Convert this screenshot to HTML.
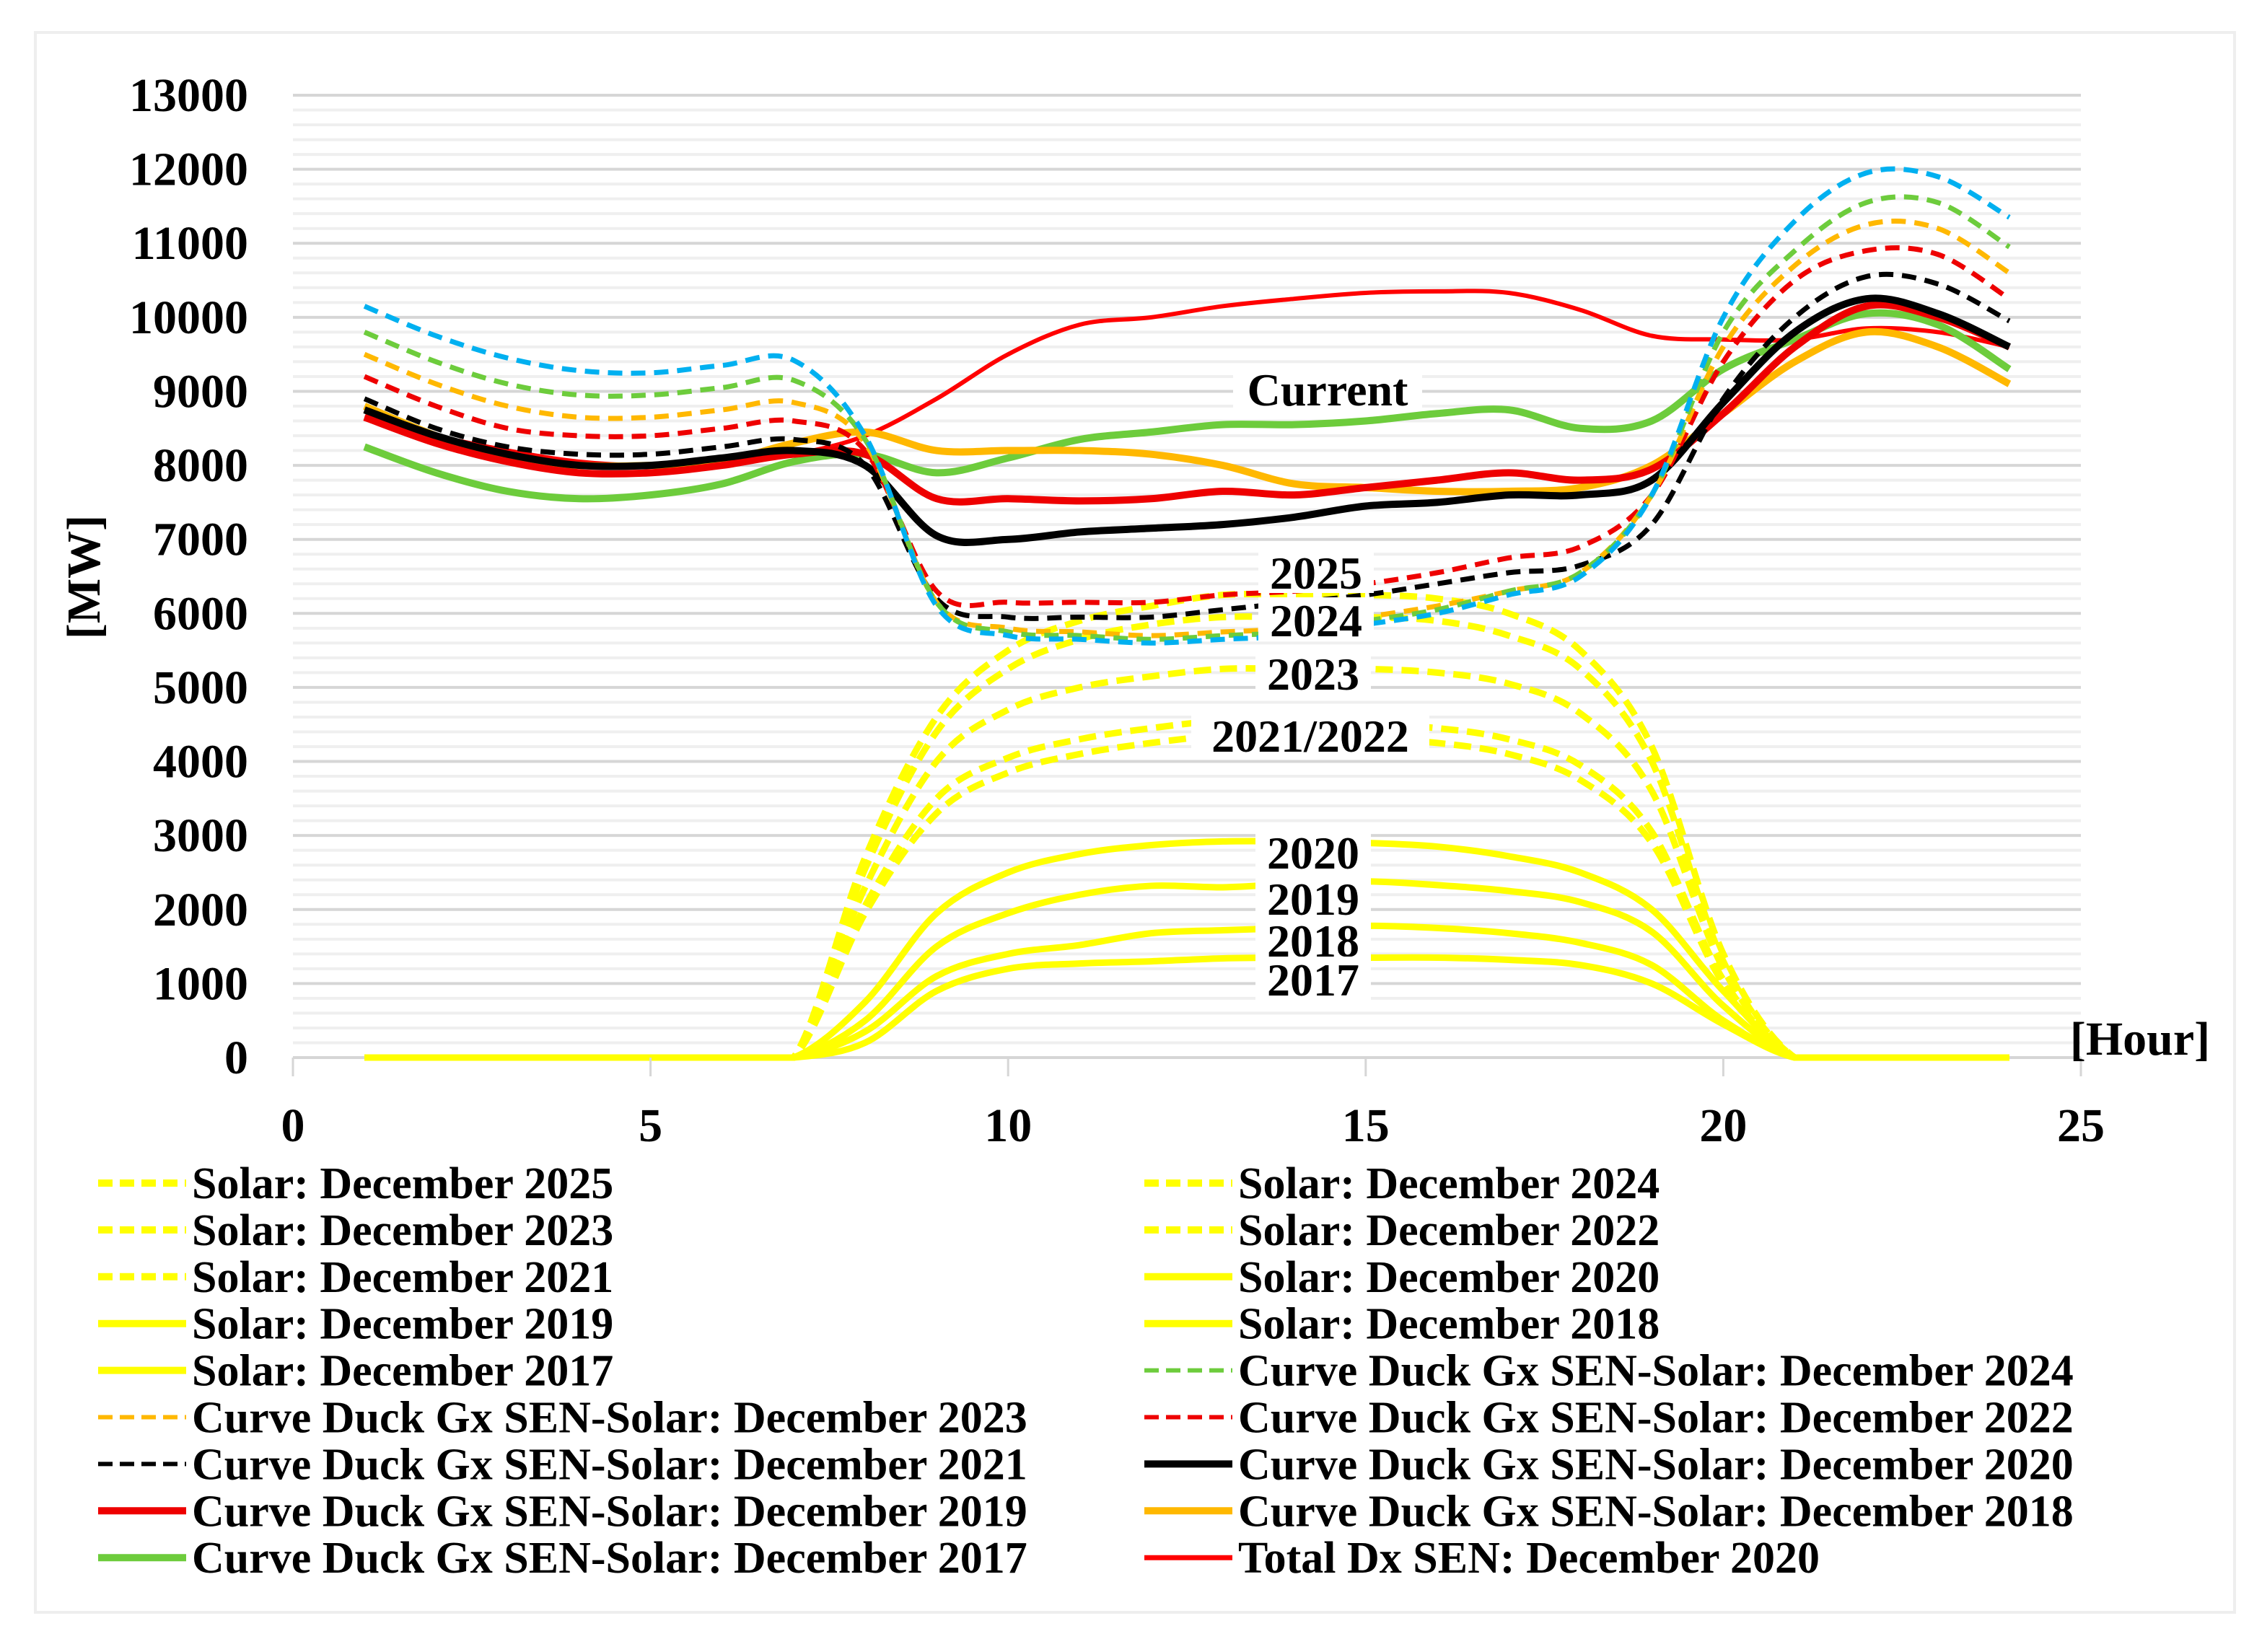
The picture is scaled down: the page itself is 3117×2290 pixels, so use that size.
<!DOCTYPE html>
<html><head><meta charset="utf-8"><style>
html,body{margin:0;padding:0;background:#fff}
svg{display:block}
text{font-family:"Liberation Serif",serif;font-weight:bold;fill:#000}
</style></head><body>
<svg id="chart" width="3117" height="2290" viewBox="0 0 3117 2290" xmlns="http://www.w3.org/2000/svg">
<rect x="0" y="0" width="3117" height="2290" fill="#fff"/>
<rect x="49" y="45" width="3048" height="2190" fill="none" stroke="#eeeeee" stroke-width="4"/>
<g id="grid"></g><g id="series"></g><g id="labels"></g><g id="axes"></g><g id="legend"></g>
</svg>
<script>
const hours=[1,2,3,4,5,6,7,8,9,10,11,12,13,14,15,16,17,18,19,20,21,22,23,24];
const yTicks=[0,1000,2000,3000,4000,5000,6000,7000,8000,9000,10000,11000,12000,13000];
const xTicks=[0,5,10,15,20,25];
const solar2025=[0,0,0,0,0,0,0,2700,4600,5500,5900,6100,6250,6250,6250,6200,6000,5500,4200,1400,0,0,0,0];
const solar2024=[0,0,0,0,0,0,0,2550,4400,5250,5650,5850,5950,5950,5950,5900,5700,5250,4000,1300,0,0,0,0];
const solar2023=[0,0,0,0,0,0,0,2300,4000,4700,5000,5150,5250,5250,5250,5200,5050,4650,3600,1200,0,0,0,0];
const solar2022=[0,0,0,0,0,0,0,2050,3500,4050,4300,4450,4550,4550,4500,4450,4300,3950,3050,1050,0,0,0,0];
const solar2021=[0,0,0,0,0,0,0,1950,3300,3850,4100,4250,4350,4350,4300,4250,4100,3750,2900,1000,0,0,0,0];
const solar2020=[0,0,0,0,0,0,0,750,1950,2500,2750,2870,2920,2920,2900,2850,2720,2500,2000,900,0,0,0,0];
const solar2019=[0,0,0,0,0,0,0,500,1500,1950,2200,2320,2300,2350,2380,2330,2250,2100,1700,700,0,0,0,0];
const solar2018=[0,0,0,0,0,0,0,350,1100,1400,1520,1680,1720,1750,1780,1750,1680,1550,1250,500,0,0,0,0];
const solar2017=[0,0,0,0,0,0,0,200,900,1200,1270,1300,1340,1350,1350,1350,1320,1250,1000,450,0,0,0,0];
const duck2025=[10150,9750,9450,9280,9250,9350,9420,8400,6100,5700,5650,5600,5650,5700,5850,6000,6250,6500,7600,10000,11300,11950,11900,11350];
const duck2024=[9800,9400,9100,8950,8950,9050,9150,8350,6150,5750,5700,5650,5700,5750,5900,6050,6300,6550,7600,9800,10900,11550,11550,10950];
const duck2023=[9500,9100,8800,8650,8650,8750,8850,8300,6150,5800,5750,5700,5750,5800,5950,6100,6300,6550,7600,9600,10700,11250,11200,10600];
const duck2022=[9200,8800,8500,8400,8400,8500,8600,8200,6300,6150,6150,6150,6250,6300,6400,6550,6750,6900,7600,9400,10500,10900,10850,10250];
const duck2021=[8900,8500,8250,8150,8150,8250,8350,8000,6200,5950,5950,5950,6050,6150,6250,6400,6550,6650,7200,8900,10000,10550,10450,9950];
const duck2020=[8750,8400,8150,8000,8000,8100,8200,8000,7050,7000,7100,7150,7200,7300,7450,7500,7600,7600,7800,8850,9800,10250,10050,9600];
const duck2019=[8650,8300,8050,7900,7900,8000,8150,8150,7550,7550,7520,7550,7650,7600,7700,7800,7900,7800,7950,8700,9600,10150,10000,9600];
const duck2018=[8800,8400,8100,8000,8000,8050,8300,8450,8200,8200,8200,8150,8000,7750,7700,7650,7650,7700,8000,8700,9400,9800,9600,9100];
const duck2017=[8250,7900,7650,7550,7600,7750,8050,8150,7900,8100,8350,8450,8550,8550,8600,8700,8750,8500,8600,9300,9700,10050,9900,9300];
const totalDx2020=[8650,8400,8200,8050,8000,8050,8150,8400,8900,9500,9900,10000,10150,10250,10330,10350,10330,10100,9750,9700,9700,9850,9800,9600];

const NS='http://www.w3.org/2000/svg';
const X0=406,X1=2884,Y0=1466,Y1=132;
const xs=h=>X0+(h/25)*(X1-X0);
const ys=v=>Y0-(v/13000)*(Y0-Y1);
function el(tag,attrs,parent){const e=document.createElementNS(NS,tag);for(const k in attrs)e.setAttribute(k,attrs[k]);parent.appendChild(e);return e;}
const grid=document.getElementById('grid'),series=document.getElementById('series'),labels=document.getElementById('labels'),axes=document.getElementById('axes'),legend=document.getElementById('legend');

for(let v=0;v<=13000;v+=200){
  const major=v%1000===0;
  const g=el('line',{x1:X0,x2:X1,y1:ys(v),y2:ys(v),stroke:major?'#d6d6d6':'#efefef','stroke-width':4},grid);
  
  
}
yTicks.forEach(v=>{
  const t=el('text',{x:344,y:ys(v)+22,'text-anchor':'end','font-size':66},axes);
  t.textContent=v;
  
  
});
xTicks.forEach(v=>{
  const tk=el('line',{x1:xs(v),x2:xs(v),y1:Y0,y2:Y0+26,stroke:'#d6d6d6','stroke-width':3},axes);
  
  
  const t=el('text',{x:xs(v),y:1582,'text-anchor':'middle','font-size':66},axes);
  t.textContent=v;
  
  
});
const yt=el('text',{x:0,y:0,'text-anchor':'middle','font-size':66,transform:'translate(138,800) rotate(-90)'},axes);
yt.textContent='[MW]';


const xt=el('text',{x:2966,y:1462,'text-anchor':'middle','font-size':66},axes);
xt.textContent='[Hour]';



function pathFor(vals){
  const p=vals.map((v,i)=>[xs(hours[i]),ys(v)]);
  const cl=y=>Math.min(y,Y0);
  let d='M'+p[0][0]+','+p[0][1];
  for(let i=0;i<p.length-1;i++){
    const p0=p[i-1]||p[i],p1=p[i],p2=p[i+1],p3=p[i+2]||p2;
    const c1=[p1[0]+(p2[0]-p0[0])/6,cl(p1[1]+(p2[1]-p0[1])/6)];
    const c2=[p2[0]-(p3[0]-p1[0])/6,cl(p2[1]-(p3[1]-p1[1])/6)];
    d+=' C'+c1[0]+','+c1[1]+' '+c2[0]+','+c2[1]+' '+p2[0]+','+p2[1];
  }
  return d;
}
const YEL='#ffff00';
const seriesDefs=[
 [solar2025,YEL,9,'24 12','solar-2025'],[solar2024,YEL,9,'24 12','solar-2024'],[solar2023,YEL,9,'24 12','solar-2023'],
 [solar2022,YEL,9,'24 12','solar-2022'],[solar2021,YEL,9,'24 12','solar-2021'],
 [solar2020,YEL,9,'','solar-2020'],[solar2019,YEL,9,'','solar-2019'],[solar2018,YEL,9,'','solar-2018'],[solar2017,YEL,9,'','solar-2017'],
 [totalDx2020,'#ff0000',6,'','total-dx-2020'],
 [duck2017,'#6dcc3c',10,'','duck-2017'],[duck2018,'#ffb800',10,'','duck-2018'],[duck2019,'#ee0000',10,'','duck-2019'],
 [duck2020,'#000000',10,'','duck-2020'],[duck2021,'#000000',7,'20 12','duck-2021'],[duck2022,'#ee0000',7,'20 12','duck-2022'],
 [duck2023,'#ffb800',7,'20 12','duck-2023'],[duck2024,'#6dcc3c',7,'20 12','duck-2024'],[duck2025,'#00b0f0',7,'20 12','duck-2025']
];
seriesDefs.forEach(s=>{
  const a={d:pathFor(s[0]),fill:'none',stroke:s[1],'stroke-width':s[2],'stroke-linejoin':'round'};
  if(s[3])a['stroke-dasharray']=s[3];
  const p=el('path',a,series);
  
  
});
const annots=[['Current',1840,540],['2025',1824,794],['2024',1824,860],['2023',1820,934],['2021/2022',1816,1020],['2020',1820,1182],['2019',1820,1246],['2018',1820,1304],['2017',1820,1358]];
annots.forEach(a=>{
  const w=a[0].length*34+24;
  const r=el('rect',{x:a[1]-w/2,y:a[2]-32,width:w,height:60,fill:'#fff'},labels);
  
  
  const t=el('text',{x:a[1],y:a[2]+22,'text-anchor':'middle','font-size':64},labels);
  t.textContent=a[0];
  
  
});
const legendItems=[
 ['Solar: December 2025',YEL,'d',10],['Solar: December 2024',YEL,'d',10],
 ['Solar: December 2023',YEL,'d',10],['Solar: December 2022',YEL,'d',10],
 ['Solar: December 2021',YEL,'d',10],['Solar: December 2020',YEL,'s',10],
 ['Solar: December 2019',YEL,'s',10],['Solar: December 2018',YEL,'s',10],
 ['Solar: December 2017',YEL,'s',10],['Curve Duck Gx SEN-Solar: December 2024','#6dcc3c','d',6],
 ['Curve Duck Gx SEN-Solar: December 2023','#ffb800','d',6],['Curve Duck Gx SEN-Solar: December 2022','#ee0000','d',6],
 ['Curve Duck Gx SEN-Solar: December 2021','#000000','d',6],['Curve Duck Gx SEN-Solar: December 2020','#000000','s',10],
 ['Curve Duck Gx SEN-Solar: December 2019','#ee0000','s',10],['Curve Duck Gx SEN-Solar: December 2018','#ffb800','s',10],
 ['Curve Duck Gx SEN-Solar: December 2017','#6dcc3c','s',10],['Total Dx SEN: December 2020','#ff0000','s',7]
];
legendItems.forEach((it,i)=>{
  const col=i%2,row=Math.floor(i/2);
  const lx=col?1586:136,y=1640+row*64.9;
  const g=el('g',{},legend);
  
  
  const a={x1:lx,x2:lx+122,y1:y,y2:y,stroke:it[1],'stroke-width':it[3]};
  if(it[2]==='d')a['stroke-dasharray']='20 10';
  const l=el('line',a,g);
  
  
  const t=el('text',{x:lx+130,y:y+21,'font-size':62},g);
  t.textContent=it[0];
  
  
});
</script>
</body></html>
